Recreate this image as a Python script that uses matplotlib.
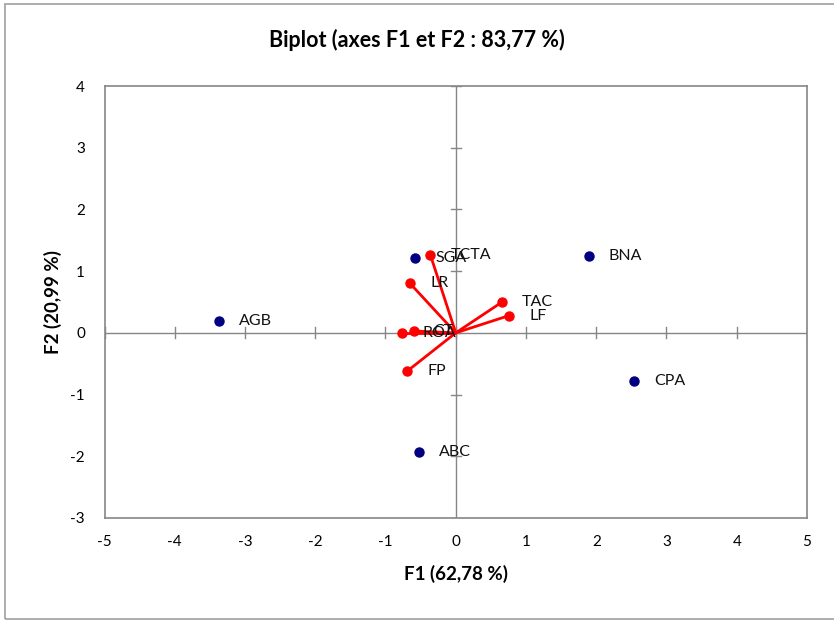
import numpy as np
import matplotlib
matplotlib.use("Agg")
import matplotlib.pyplot as plt
from matplotlib.patches import Rectangle

plt.rcParams['font.family'] = ['Lato', 'DejaVu Sans']
plt.rcParams['axes.unicode_minus'] = False

# observations (F1, F2)
obs_names = ["AGB", "SGA", "BNA", "CPA", "ABC"]
obs_f1 = [-3.37, -0.58, 1.89, 2.54, -0.53]
obs_f2 = [0.20, 1.22, 1.25, -0.78, -1.93]

# variables (arrow tips)
var_names = ["TCTA", "LR", "TAC", "LF", "ROA", "CT", "FP"]
var_f1 = [-0.36, -0.65, 0.66, 0.76, -0.76, -0.60, -0.69]
var_f2 = [1.26, 0.80, 0.50, 0.28, 0.00, 0.03, -0.62]

x_ticks = list(range(-5, 6))
y_ticks = list(range(-3, 5))

fig = plt.figure(figsize=(8.34, 6.21), dpi=100)
ax = fig.add_axes([0.1253, 0.1659, 0.8423, 0.6956])

grey = "#868686"

# zero axes with cross ticks
ax.axhline(0, color=grey, lw=1, zorder=1)
ax.axvline(0, color=grey, lw=1, zorder=1)
for t in x_ticks:
    ax.plot([t, t], [-0.09, 0.09], color=grey, lw=1, zorder=1)
for t in y_ticks:
    ax.plot([-0.07, 0.07], [t, t], color=grey, lw=1, zorder=1)

# arrows from origin
for x, y in zip(var_f1, var_f2):
    ax.plot([0, x], [0, y], color="red", lw=2, zorder=2, solid_capstyle="butt")
ax.plot(var_f1, var_f2, "o", color="red", ms=6.5, zorder=3)

ax.plot(obs_f1, obs_f2, "o", color="#000080", ms=6.5, zorder=3)

for n, x, y in zip(obs_names, obs_f1, obs_f2):
    ax.annotate(n, (x, y), xytext=(20, 0), textcoords="offset pixels",
                va="center", ha="left", fontsize=11.5, color="#111111", zorder=4)
for n, x, y in zip(var_names, var_f1, var_f2):
    ax.annotate(n, (x, y), xytext=(20, 0), textcoords="offset pixels",
                va="center", ha="left", fontsize=11.5, color="#111111", zorder=4)

ax.set_xlim(-5, 5)
ax.set_ylim(-3, 4)
ax.set_xticks(x_ticks)
ax.set_yticks(y_ticks)
ax.tick_params(length=0, labelsize=11, pad=12)
ax.tick_params(axis="y", pad=14)
for s in ax.spines.values():
    s.set_color(grey)
    s.set_linewidth(1.2)

ax.set_xlabel("F1 (62,78 %)", fontsize=13.5, fontweight="bold", labelpad=12)
ax.set_ylabel("F2 (20,99 %)", fontsize=13.5, fontweight="bold", labelpad=6)
fig.text(0.5, 0.935, "Biplot (axes F1 et F2 : 83,77 %)", ha="center", va="center",
         fontsize=15.5, fontweight="bold")

# chart frame
fig.patches.append(Rectangle((5 / 834, 2 / 621), 1.0, 615 / 621, transform=fig.transFigure,
                             fill=False, edgecolor="#a0a0a0", lw=1.2))

fig.savefig("out.png", dpi=100)
